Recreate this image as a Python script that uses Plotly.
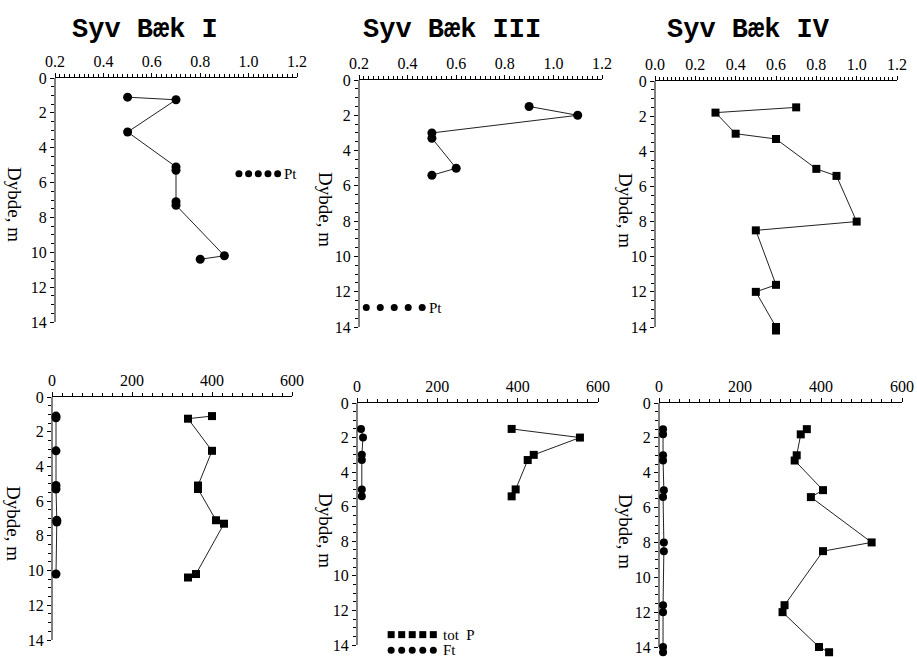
import plotly.graph_objects as go

# ---------------- data ----------------
# Syv Bæk I
depth_I = [1.1, 1.25, 3.1, 5.1, 5.3, 7.1, 7.3, 10.2, 10.4]
pt_I = [0.5, 0.7, 0.5, 0.7, 0.7, 0.7, 0.7, 0.9, 0.8]
totp_I = [400, 340, 400, 365, 365, 410, 430, 360, 340]
depth_I_ft = [1.1, 1.2, 3.1, 5.1, 5.3, 7.1, 7.2, 10.2]
ft_I = [10, 10, 10, 10, 10, 12, 12, 10]

# Syv Bæk III
depth_III = [1.5, 2.0, 3.0, 3.3, 5.0, 5.4]
pt_III = [0.9, 1.1, 0.5, 0.5, 0.6, 0.5]
totp_III = [385, 555, 440, 425, 395, 385]
ft_III = [10, 15, 12, 12, 12, 12]

# Syv Bæk IV
depth_IV = [1.5, 1.8, 3.0, 3.3, 5.0, 5.4, 8.0, 8.5, 11.6, 12.0, 14.0, 14.2]
pt_IV = [0.7, 0.3, 0.4, 0.6, 0.8, 0.9, 1.0, 0.5, 0.6, 0.5, 0.6, 0.6]
depth_IV_p = [1.5, 1.8, 3.0, 3.3, 5.0, 5.4, 8.0, 8.5, 11.6, 12.0, 14.0, 14.3]
totp_IV = [365, 350, 340, 335, 405, 375, 525, 405, 310, 305, 395, 420]
ft_IV = [10, 10, 10, 10, 12, 10, 12, 12, 10, 10, 10, 10]

titles = ["Syv Bæk I", "Syv Bæk III", "Syv Bæk IV"]
y_title = "Dybde, m"
y_ticks = [0, 2, 4, 6, 8, 10, 12, 14]
legend_pt = "Pt"
legend_totp = "tot  P"
legend_ft = "Ft"

# ---------------- layout geometry ----------------
W, H = 917, 657
YMAX = 14.4  # a little room below 14 for the deepest marks

def dx(a, b):
    return [a / W, b / W]

def dy(top, bot14):
    bot = top + (bot14 - top) * YMAX / 14
    return [max(0.0, 1 - bot / H), 1 - top / H]

panels = [
    dict(x=dx(55, 297), y=dy(78, 322), xr=[0.2, 1.2], dt=0.2, mn=0.02, fmt=".1f"),
    dict(x=dx(359, 602), y=dy(80, 327), xr=[0.2, 1.2], dt=0.2, mn=0.02, fmt=".1f"),
    dict(x=dx(655, 897), y=dy(81, 327), xr=[0.0, 1.2], dt=0.2, mn=0.02, fmt=".1f"),
    dict(x=dx(52, 292), y=dy(397, 640), xr=[0, 600], dt=200, mn=25, fmt="d"),
    dict(x=dx(357, 598), y=dy(403, 645), xr=[0, 600], dt=200, mn=25, fmt="d"),
    dict(x=dx(659, 902), y=dy(403, 647), xr=[0, 600], dt=200, mn=25, fmt="d"),
]

minor_y = [k * 0.5 for k in range(29)]
tick_font = dict(family="Liberation Serif", size=16, color="black")
fig = go.Figure()
layout = dict(width=W, height=H, margin=dict(l=0, r=0, t=0, b=0, autoexpand=False),
              paper_bgcolor="white", plot_bgcolor="white", showlegend=False)
shapes = []

for i, p in enumerate(panels, start=1):
    sfx = "" if i == 1 else str(i)
    layout["xaxis" + sfx] = dict(domain=p["x"], range=p["xr"], anchor="y" + sfx,
                      side="top", showline=True, linecolor="black", linewidth=1,
                      ticks="outside", ticklen=4, tickcolor="black", dtick=p["dt"],
                      tick0=0, tickformat=p["fmt"], showgrid=False, zeroline=False,
                      tickfont=tick_font, ticklabelstandoff=0, automargin=False,
                      minor=dict(ticks="outside", ticklen=3, dtick=p["mn"], tickcolor="black", showgrid=False))
    layout["yaxis" + sfx] = dict(domain=p["y"], range=[YMAX, 0], anchor="x" + sfx,
                      showline=False, automargin=False,
                      ticks="outside", ticklen=4, tickcolor="black",
                      tickvals=y_ticks, showgrid=False, zeroline=False,
                      tickfont=tick_font,
                      minor=dict(ticks="outside", ticklen=3, tickvals=minor_y, tickcolor="black", showgrid=False))
    shapes.append(dict(type="line", xref=f"x{sfx} domain", yref="y" + sfx, x0=0, x1=0, y0=0, y1=14,
                       line=dict(color="black", width=1)))

line = dict(color="#222", width=1)

def add(x, y, sym, size, idx, mode="lines+markers"):
    sfx = "" if idx == 1 else str(idx)
    fig.add_trace(go.Scatter(x=x, y=y, mode=mode, line=line, cliponaxis=False,
                             marker=dict(symbol=sym, size=size, color="black"),
                             xaxis="x" + sfx, yaxis="y" + sfx))

add(pt_I, depth_I, "circle", 9, 1)
add(pt_III, depth_III, "circle", 9, 2)
add(pt_IV, depth_IV, "square", 8, 3)
add(ft_I, depth_I_ft, "circle", 9, 4)
add(totp_I, depth_I, "square", 8, 4)
add(ft_III, depth_III, "circle", 8, 5)
add(totp_III, depth_III, "square", 8, 5)
add(ft_IV, depth_IV_p, "circle", 8, 6)
add(totp_IV, depth_IV_p, "square", 8, 6)

# legend glyphs (5 marks each)
def legend_marks(x0, x1, yv, sym, idx):
    sfx = "" if idx == 1 else str(idx)
    n = 5
    xs = [x0 + (x1 - x0) * k / (n - 1) for k in range(n)]
    fig.add_trace(go.Scatter(x=xs, y=[yv] * n, mode="markers", cliponaxis=False,
                             marker=dict(symbol=sym, size=7, color="black"),
                             xaxis="x" + sfx, yaxis="y" + sfx))

legend_marks(0.96, 1.12, 5.5, "circle", 1)
legend_marks(0.23, 0.46, 12.9, "circle", 2)
legend_marks(85, 190, 13.4, "square", 5)
legend_marks(85, 190, 14.3, "circle", 5)

annotations = []
leg_font = dict(family="Liberation Serif", size=15, color="black")
annotations.append(dict(x=1.14, y=5.5, xref="x", yref="y", text=legend_pt, showarrow=False,
                        xanchor="left", font=leg_font))
annotations.append(dict(x=0.48, y=12.9, xref="x2", yref="y2", text=legend_pt, showarrow=False,
                        xanchor="left", font=leg_font))
annotations.append(dict(x=210, y=13.4, xref="x5", yref="y5", text=legend_totp, showarrow=False,
                        xanchor="left", font=leg_font))
annotations.append(dict(x=210, y=14.3, xref="x5", yref="y5", text=legend_ft, showarrow=False,
                        xanchor="left", font=leg_font))

# titles
for t, xc in zip(titles, [145, 452, 748]):
    annotations.append(dict(x=xc / W, y=1 - 30 / H, xref="paper", yref="paper", text=t,
                            showarrow=False, xanchor="center", yanchor="middle",
                            font=dict(family="Liberation Mono", size=27, color="black", weight="bold")))

# y-axis titles (rotated, reading top to bottom)
for xc, yc in [(15, 204), (326, 209), (626, 210), (14, 523), (326, 530), (626, 531)]:
    annotations.append(dict(x=xc / W, y=1 - yc / H, xref="paper", yref="paper", text=y_title,
                            showarrow=False, textangle=90, xanchor="center", yanchor="middle",
                            font=dict(family="Liberation Serif", size=19, color="black")))

layout["annotations"] = annotations
layout["shapes"] = shapes
fig.update_layout(**layout)
fig.write_html("out.html")
